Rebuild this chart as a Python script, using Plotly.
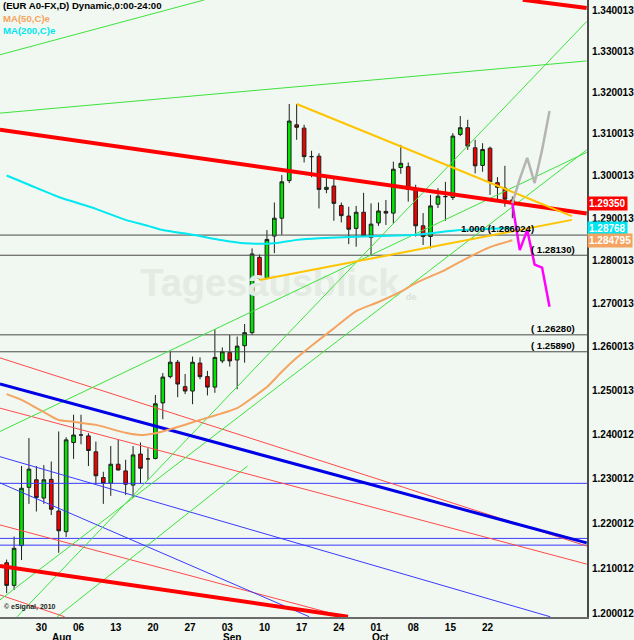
import math
import plotly.graph_objects as go

FONT = "Liberation Sans, Arial, sans-serif"
BG = "#f1f8f1"

# ---------------- daily candles (EUR/USD, 24 Jul 2012 .. 26 Oct 2012) ----------------
opens = [1.2113, 1.2063, 1.2151, 1.2281, 1.2298, 1.2257, 1.2299, 1.2228, 1.2182, 1.2382,
         1.2399, 1.2397, 1.2361, 1.2303, 1.2290, 1.2333, 1.2318, 1.2286, 1.2356, 1.2345,
         1.2346, 1.2472, 1.2532, 1.2565, 1.2509, 1.2499, 1.2563, 1.2532, 1.2508, 1.2568,
         1.2587, 1.2570, 1.2603, 1.2633, 1.2808, 1.2759, 1.2858, 1.2900, 1.2989, 1.3122,
         1.3114, 1.3046, 1.3047, 1.2968, 1.2976, 1.2930, 1.2905, 1.2876, 1.2914, 1.2855,
         1.2889, 1.2916, 1.2912, 1.3020, 1.3022, 1.2968, 1.2882, 1.2857, 1.2933, 1.2951,
         1.2949, 1.3099, 1.3115, 1.3067, 1.3025, 1.3066, 1.2984, 1.2971, 1.2943]
highs = [1.2120, 1.2171, 1.2329, 1.2392, 1.2329, 1.2331, 1.2339, 1.2407, 1.2394, 1.2445,
         1.2445, 1.2403, 1.2384, 1.2316, 1.2374, 1.2389, 1.2343, 1.2374, 1.2382, 1.2369,
         1.2490, 1.2540, 1.2589, 1.2570, 1.2538, 1.2578, 1.2576, 1.2545, 1.2641, 1.2599,
         1.2628, 1.2624, 1.2653, 1.2829, 1.2815, 1.2872, 1.2937, 1.3002, 1.3172, 1.3172,
         1.3122, 1.3060, 1.3054, 1.3000, 1.2995, 1.2937, 1.2927, 1.2929, 1.2960, 1.2935,
         1.2937, 1.2943, 1.3034, 1.3074, 1.3032, 1.2979, 1.2912, 1.2955, 1.2971, 1.2986,
         1.3102, 1.3143, 1.3134, 1.3086, 1.3078, 1.3070, 1.2997, 1.3024, 1.2951]
lows = [1.2046, 1.2053, 1.2119, 1.2244, 1.2227, 1.2244, 1.2219, 1.2135, 1.2170, 1.2345,
        1.2378, 1.2329, 1.2290, 1.2244, 1.2262, 1.2319, 1.2264, 1.2257, 1.2289, 1.2298,
        1.2344, 1.2435, 1.2528, 1.2485, 1.2492, 1.2469, 1.2526, 1.2489, 1.2495, 1.2563,
        1.2555, 1.2503, 1.2564, 1.2628, 1.2755, 1.2757, 1.2818, 1.2861, 1.2983, 1.3086,
        1.3032, 1.2997, 1.2923, 1.2959, 1.2894, 1.2890, 1.2839, 1.2833, 1.2857, 1.2811,
        1.2882, 1.2884, 1.2887, 1.3005, 1.2939, 1.2857, 1.2837, 1.2829, 1.2924, 1.2894,
        1.2943, 1.3095, 1.3062, 1.3006, 1.3010, 1.2955, 1.2943, 1.2927, 1.2900]
closes = [1.2063, 1.2145, 1.2279, 1.2322, 1.2258, 1.2298, 1.2232, 1.2184, 1.2388, 1.2399,
          1.2399, 1.2364, 1.2307, 1.2290, 1.2333, 1.2320, 1.2288, 1.2354, 1.2324, 1.2345,
          1.2470, 1.2531, 1.2565, 1.2515, 1.2499, 1.2565, 1.2532, 1.2508, 1.2576, 1.2589,
          1.2568, 1.2602, 1.2633, 1.2816, 1.2759, 1.2850, 1.2900, 1.2986, 1.3131, 1.3116,
          1.3046, 1.3046, 1.2968, 1.2973, 1.2935, 1.2906, 1.2874, 1.2914, 1.2858, 1.2886,
          1.2917, 1.2912, 1.3016, 1.3030, 1.2968, 1.2882, 1.2857, 1.2929, 1.2952, 1.2951,
          1.3095, 1.3115, 1.3071, 1.3024, 1.3063, 1.2986, 1.2973, 1.2945, 1.2935]
bars = list(range(len(opens)))

# x-axis labels (bar index of each Monday / first bar of the month)
day_tick_bars = [4, 9, 14, 19, 24, 29, 34, 39, 44, 49, 54, 59, 64]
day_tick_labels = ["30", "06", "13", "20", "27", "03", "10", "17", "24", "01", "08", "15", "22"]
month_bars = [6, 29, 49]
month_labels = ["Aug", "Sep", "Oct"]

# y-axis labels
y_tick_values = [1.200012, 1.210012, 1.220012, 1.230012, 1.240012, 1.250013, 1.260013,
                 1.270013, 1.280013, 1.290013, 1.300013, 1.310013, 1.320013, 1.330013, 1.340013]
y_tick_labels = ["1.200012", "1.210012", "1.220012", "1.230012", "1.240012", "1.250013", "1.260013",
                 "1.270013", "1.280013", "1.290013", "1.300013", "1.310013", "1.320013", "1.330013", "1.340013"]

# moving averages (read at selected bars)
ma50_bars = [0, 2, 5, 7, 9, 12, 16, 18, 20, 22, 26, 31, 33, 35, 37, 39, 41, 44, 47, 50, 53, 55, 59, 62, 65, 68]
ma50_values = [1.2492, 1.2479, 1.2451, 1.2433, 1.2429, 1.2422, 1.2404, 1.2399, 1.2403, 1.2412,
               1.2433, 1.2460, 1.2483, 1.2508, 1.2543, 1.2575, 1.2603, 1.2643, 1.2683, 1.2704,
               1.2728, 1.2748, 1.2779, 1.2807, 1.2832, 1.284795]
ma200_bars = [0, 3, 7, 12, 16, 19, 21, 25, 29, 32, 36, 39, 42, 50, 55, 61, 65, 68]
ma200_values = [1.3001, 1.2979, 1.2950, 1.2922, 1.2896, 1.2882, 1.2872, 1.2861, 1.2848, 1.2841,
                1.2841, 1.2849, 1.2853, 1.2858, 1.2861, 1.2872, 1.2875, 1.28768]

# projected paths after the last bar
forecast_bars = [68, 69, 70, 71, 72, 73]
bear_path = [1.2935, 1.2825, 1.2872, 1.2791, 1.2784, 1.2693]
bull_path = [1.2935, 1.2993, 1.3043, 1.2983, 1.3062, 1.3155]

# drawn trendlines: ((bar, price), (bar, price))
green_lines = [((-0.9, 1.3291), (26.6, 1.3425)),
               ((-0.9, 1.3150), (78.0, 1.3276)),
               ((-0.9, 1.2407), (78.0, 1.3056)),
               ((1.4, 1.1994), (78.0, 1.3372)),
               ((-0.9, 1.2031), (78.0, 1.3062)),
               ((6.8, 1.1994), (32.4, 1.2329))]
red_thick_lines = [((-0.9, 1.3110), (78.0, 1.2911)),
                   ((69.4, 1.3425), (78.0, 1.3405)),
                   ((-0.9, 1.2106), (45.9, 1.1994))]
red_thin_lines = [((-0.9, 1.2575), (78.0, 1.2150)),
                  ((-0.9, 1.2460), (78.0, 1.2110)),
                  ((-0.9, 1.2197), (45.4, 1.1994)),
                  ((-0.9, 1.2042), (7.8, 1.1994))]
blue_thick_lines = [((-0.9, 1.2515), (78.0, 1.2157))]
blue_thin_lines = [((-0.9, 1.2350), (73.1, 1.1994)),
                   ((-0.9, 1.2291), (40.7, 1.1994))]
yellow_lines = [((39.0, 1.3172), (76.0, 1.2905)),
                ((34.0, 1.2755), (76.0, 1.2896))]

# horizontal levels
black_levels = [1.286024, 1.28130, 1.26280, 1.25890]
black_level_labels = ["1.000 (1.286024)", "( 1.28130)", "( 1.26280)", "( 1.25890)"]
blue_levels = [1.2290, 1.2167, 1.2152]

last_close = 1.29350
last_ma200 = 1.28768
last_ma50 = 1.284795

# ---------------- figure ----------------
fig = go.Figure()

# watermark (under everything)
fig.add_trace(go.Scatter(x=[35.4], y=[1.2741], mode="text", text=["Tagesausblick"],
                         textfont=dict(family=FONT, size=38, color="#e3ebe3", weight="bold"),
                         hoverinfo="skip", showlegend=False))
fig.add_trace(go.Scatter(x=[54.4], y=[1.2715], mode="text", text=["de"],
                         textfont=dict(family=FONT, size=9, color="#d9e3d9", weight="bold"),
                         hoverinfo="skip", showlegend=False))


def add_lines(lines, color, width):
    for (x0, y0), (x1, y1) in lines:
        fig.add_trace(go.Scatter(x=[x0, x1], y=[y0, y1], mode="lines",
                                 line=dict(color=color, width=width),
                                 hoverinfo="skip", showlegend=False))


for lv in black_levels:
    add_lines([((-2, lv), (80, lv))], "#4a4a4a", 1)
for lv in blue_levels:
    add_lines([((-2, lv), (80, lv))], "#3a3aff", 1)

add_lines(red_thin_lines, "#ff4a4a", 1)
add_lines(blue_thin_lines, "#3a3aff", 1)
add_lines(green_lines, "#3ee23e", 1)
add_lines(blue_thick_lines, "#0000e6", 3)
add_lines(red_thick_lines, "#ff0000", 4)
add_lines(yellow_lines, "#ffc400", 2)

fig.add_trace(go.Scatter(x=ma200_bars, y=ma200_values, mode="lines",
                         line=dict(color="#00e8f0", width=2, shape="spline", smoothing=0.6),
                         hoverinfo="skip", showlegend=False))
fig.add_trace(go.Scatter(x=ma50_bars, y=ma50_values, mode="lines",
                         line=dict(color="#f4a460", width=2, shape="spline", smoothing=0.6),
                         hoverinfo="skip", showlegend=False))

fig.add_trace(go.Candlestick(
    x=bars, open=opens, high=highs, low=lows, close=closes,
    increasing=dict(fillcolor="#00e400", line=dict(color="#1e1e1e", width=1)),
    decreasing=dict(fillcolor="#f20000", line=dict(color="#1e1e1e", width=1)),
    whiskerwidth=0, hoverinfo="skip", showlegend=False))

fig.add_trace(go.Scatter(x=forecast_bars, y=bull_path, mode="lines",
                         line=dict(color="#b4b4b4", width=2.5), hoverinfo="skip", showlegend=False))
fig.add_trace(go.Scatter(x=forecast_bars, y=bear_path, mode="lines",
                         line=dict(color="#ff00ff", width=2.5), hoverinfo="skip", showlegend=False))

PLOT_H = 617.0
annotations = []


def note(text, x, y, size=9.6, color="black", xanchor="left", yanchor="middle",
         xref="paper", yref="paper", **kw):
    d = dict(text=text, x=x, y=y, xref=xref, yref=yref, xanchor=xanchor, yanchor=yanchor,
             showarrow=False, font=dict(family=FONT, size=size, color=color, weight="bold"))
    d.update(kw)
    annotations.append(d)


note("(EUR A0-FX,D) Dynamic,0:00-24:00", 0, 1 - 6 / PLOT_H, xshift=1)
note("MA(50,C)e", 0, 1 - 18.5 / PLOT_H, color="#f4a460", xshift=1)
note("MA(200,C)e", 0, 1 - 30.5 / PLOT_H, color="#00e5ee", xshift=1)

# level labels
note(black_level_labels[0], 541 / 592, math.log10(black_levels[0]), xanchor="right", yref="y", yshift=7)
for lv, lab in zip(black_levels[1:], black_level_labels[1:]):
    note(lab, 582 / 592, math.log10(lv), xanchor="right", yref="y", yshift=6)

# last-value boxes on the price axis
for val, txt, col in [(last_close, "1.29350", "#ff0000"),
                      (last_ma200, "1.28768", "#00e5f0"),
                      (last_ma50, "1.284795", "#f4a460")]:
    note(txt, 1.0, math.log10(val), size=10, color="white", yref="y", bgcolor=col, borderpad=1)

# month labels
for b, m in zip(month_bars, month_labels):
    note(m, b, -(20 / PLOT_H), size=10, xref="x", xshift=-1)

note("© eSignal, 2010", 0.004, 10 / PLOT_H, size=7, color="#222222")

y_lo = 1.340013 * math.exp(-(617 - 10) / 5473.5)
y_hi = 1.340013 * math.exp(10 / 5473.5)

fig.update_layout(
    width=634, height=640,
    margin=dict(l=0, r=42, t=0, b=23, pad=0),
    paper_bgcolor=BG, plot_bgcolor=BG,
    showlegend=False,
    annotations=annotations,
    xaxis=dict(range=[-6.7 / 7.5, (592 - 6.7) / 7.5], rangeslider=dict(visible=False),
               showgrid=False, zeroline=False, showline=True, linecolor="#6a6a6a", linewidth=2,
               tickmode="array", tickvals=day_tick_bars, ticktext=day_tick_labels,
               tickfont=dict(family=FONT, size=10, color="black", weight="bold"),
               ticks="", ticklabelshift=5, ticklabelstandoff=0, fixedrange=True),
    yaxis=dict(type="log", side="right", range=[math.log10(y_lo), math.log10(y_hi)],
               showgrid=False, zeroline=False, showline=True, linecolor="#4a4a4a", linewidth=2,
               tickmode="array", tickvals=y_tick_values, ticktext=y_tick_labels,
               tickfont=dict(family=FONT, size=10, color="black", weight="bold"),
               ticks="", ticklabelstandoff=1, fixedrange=True),
)

fig.write_html("out.html", config={"displayModeBar": False},
               post_script="document.body.style.margin='0px';document.body.style.background='" + BG + "';")
